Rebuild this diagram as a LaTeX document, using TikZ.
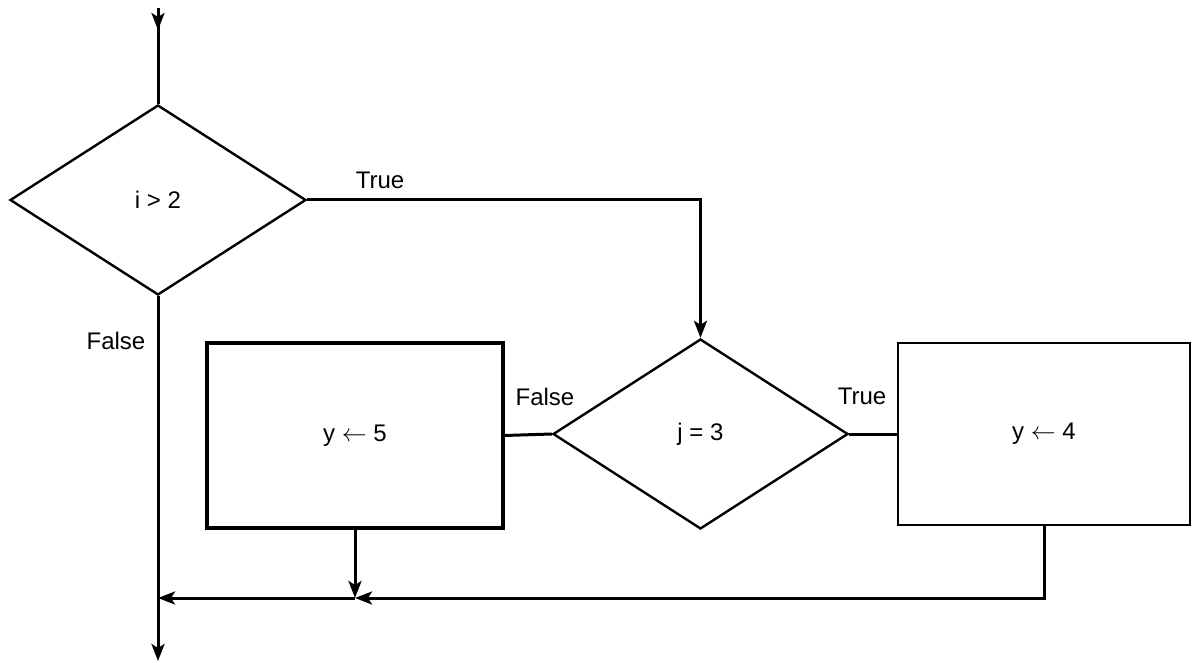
\documentclass[tikz,border=0pt]{standalone}
\usepackage{fontspec}
\setmainfont{Liberation Sans}
\usetikzlibrary{shapes.geometric,arrows.meta}
\begin{document}
\begin{tikzpicture}[x=1pt,y=-1pt,
  line width=3pt,
  font=\fontsize{24}{28}\selectfont,
  arr/.style={-{Stealth[length=17pt,width=13pt,inset=4pt]}},
  dia/.style={diamond,draw,line width=2.4pt,inner sep=0pt,aspect=1.55,
              minimum width=#1,minimum height=190pt},
  box/.style={rectangle,draw,inner sep=0pt},
  lbl/.style={inner sep=1pt}]
\useasboundingbox (0,0) rectangle (1194,663);

% decisions
\node[dia=296pt] (d1) at (158,200) {i > 2};
\node[dia=295pt] (d2) at (700.5,434) {j = 3};

% assignments
\node[box,line width=3.6pt,minimum width=296pt,minimum height=185pt] (b1) at (355,435.5) {y $\leftarrow$ 5};
\node[box,line width=2.6pt,minimum width=292pt,minimum height=182pt] (b2) at (1044,434) {y $\leftarrow$ 4};

% entry and exit points
\coordinate (entry) at (158,8);
\coordinate (exit) at (158,661);
\coordinate (j1) at (158,598);
\coordinate (j2) at (b1.south |- j1);

% connectors
\draw (entry) -- (d1.north);
\draw[arr] (entry) -- ++(0,22);
\draw[arr] (d1.east) -| (d2.north);
\draw (d2.west) -- (b1.east);
\draw (d2.east) -- (b2.west);
\draw[arr] (d1.south) -- (exit);
\draw[arr] (b1.south) -- (j2);
\draw[arr] (b2.south) |- (j2);
\draw[arr] (j2) -- (j1);

% branch labels
\node[lbl] (t1) at (380,180) {True};
\node[lbl] (f1) at (116,341) {False};
\node[lbl] (f2) at (545,397) {False};
\node[lbl] (t2) at (862,396) {True};
\end{tikzpicture}
\end{document}
